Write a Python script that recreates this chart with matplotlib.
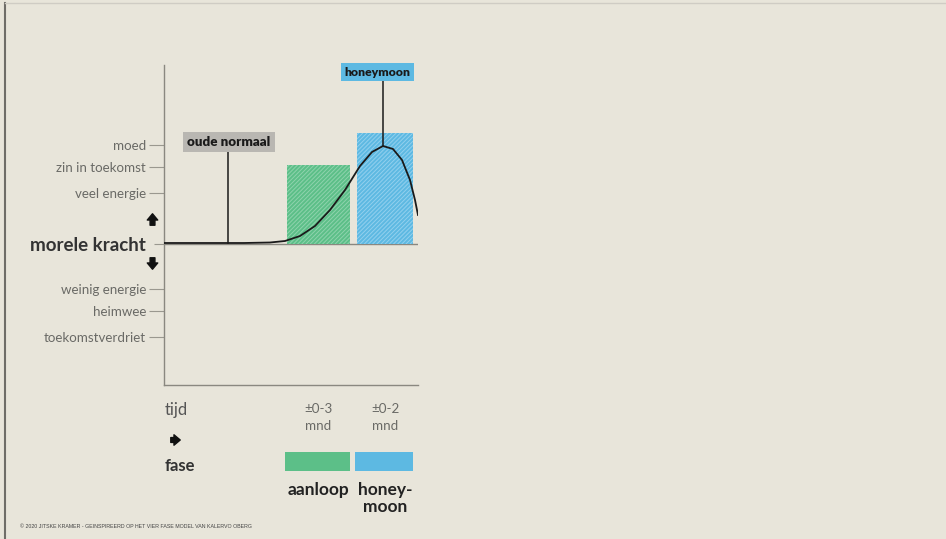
import matplotlib.pyplot as plt
from matplotlib.lines import Line2D

# morale levels (baseline = 0)
level_names = ['toekomstverdriet', 'heimwee', 'weinig energie', 'morele kracht',
               'veel energie', 'zin in toekomst', 'moed']
level_values = [-9.3, -6.7, -4.5, 0.0, 5.1, 7.7, 9.9]

# phases: start, end (time units) and bar height
phase_names = ['aanloop', 'honey-\nmoon']
phase_start = [12.3, 19.3]
phase_end = [18.6, 24.9]
phase_height = [7.9, 11.1]
phase_duration = ['\u00b10-3\nmnd', '\u00b10-2\nmnd']
phase_colors = ['#5cbf88', '#5db9e2']
hatch_colors = ['#8fd3ad', '#93d0ee']

# hand-drawn morale curve
curve_t = [0, 4, 8, 10.6, 12.1, 13.6, 15.1, 16.6, 18.1, 19.6, 20.8, 21.9, 22.9,
           23.8, 24.6, 25.1, 25.4]
curve_y = [0.1, 0.1, 0.1, 0.15, 0.3, 0.8, 1.8, 3.4, 5.4, 7.8, 9.2, 9.8, 9.5,
           8.4, 6.4, 4.4, 2.9]

bg = '#e8e5da'
plt.rcParams['hatch.linewidth'] = 0.7
fig = plt.figure(figsize=(9.46, 5.39), dpi=100, facecolor=bg)
W, H = 946, 539


def fx(px):
    return px / W


def fy(py):
    return 1 - py / H


arrow = 'simple,head_width=0.75,head_length=0.45,tail_width=0.35'

ax = fig.add_axes([fx(164), fy(385), fx(418) - fx(164), fy(65) - fy(385)])
ax.set_facecolor(bg)
ax.set_xlim(0, 25.4)
ax.set_ylim(-14.1, 17.9)

for s in ['top', 'right']:
    ax.spines[s].set_visible(False)
for s in ['left', 'bottom']:
    ax.spines[s].set_color('#8a8880')
    ax.spines[s].set_linewidth(1)

# bars with pencil-like hatching
for x0, x1, h, c, hc in zip(phase_start, phase_end, phase_height, phase_colors, hatch_colors):
    ax.bar(x0, h, width=x1 - x0, align='edge', color=c, edgecolor=hc,
           linewidth=0, hatch='////////', zorder=2)

ax.axhline(0, color='#8a8880', lw=1, zorder=1)
ax.plot(curve_t, curve_y, color='#1a1a1a', lw=1.3, zorder=3)

# y ticks
ax.set_yticks(level_values)
ax.set_yticklabels(level_names)
ax.set_xticks([])
ax.tick_params(axis='y', length=11, width=0.8, color='#9a988f', pad=2,
               labelsize=9.6, labelcolor='#6a6a66')
for lbl in ax.get_yticklabels():
    lbl.set_family('Lato')
    if lbl.get_text() == 'morele kracht':
        lbl.set_fontsize(13.5)
        lbl.set_fontweight('bold')
        lbl.set_color('#333333')
ax.yaxis.get_major_ticks()[3].tick1line.set_markersize(7)

# up / down arrows
ax.annotate('', xy=(-1.15, 3.3), xytext=(-1.15, 1.6),
            arrowprops=dict(arrowstyle=arrow, color='#111111'), annotation_clip=False)
ax.annotate('', xy=(-1.15, -2.8), xytext=(-1.15, -1.1),
            arrowprops=dict(arrowstyle=arrow, color='#111111'), annotation_clip=False)

# label callouts
ax.plot([6.4, 6.4], [0.1, 9.3], color='#1a1a1a', lw=1.1, zorder=3)
ax.text(6.5, 10.2, 'oude normaal', ha='center', va='center', fontsize=9.6,
        fontweight='heavy', family='Lato', color='#1a1a1a', zorder=4,
        bbox=dict(boxstyle='square,pad=0.3', fc='#b9b7b2', ec='none'))
ax.plot([21.9, 21.9], [9.8, 16.4], color='#1a1a1a', lw=1.1, zorder=3)
ax.text(21.35, 17.2, 'honeymoon', ha='center', va='center', fontsize=8.8,
        fontweight='heavy', family='Lato', color='#1a1a1a', zorder=4,
        bbox=dict(boxstyle='square,pad=0.3', fc='#5db9e2', ec='none'), clip_on=False)

# phase strip below the chart
ax2 = fig.add_axes([fx(164), fy(520), fx(418) - fx(164), fy(395) - fy(520)])
ax2.set_xlim(ax.get_xlim())
ax2.set_ylim(12.5, 0)
ax2.axis('off')
for x0, x1, c, d, n in zip(phase_start, phase_end, phase_colors, phase_duration, phase_names):
    ax2.bar(x0 - 0.25, 1.9, bottom=5.7, width=x1 - x0 + 0.2, align='edge', color=c, lw=0)
    xc = (x0 + x1) / 2
    ax2.text(xc, 0.8, d, ha='center', va='top', fontsize=9.6, family='Lato',
             color='#6a6a66', linespacing=1.5)
    ax2.text(xc, 8.7, n, ha='center', va='top', fontsize=12.5, family='Lato',
             fontweight='bold', color='#222222', linespacing=1.05)
ax2.text(0.1, 1.5, 'tijd', ha='left', va='center', fontsize=12, family='Lato', color='#555555')
ax2.annotate('', xy=(1.9, 4.5), xytext=(0.4, 4.5),
             arrowprops=dict(arrowstyle=arrow, color='#111111'))
ax2.text(0.1, 7.1, 'fase', ha='left', va='center', fontsize=12, family='Lato',
         fontweight='bold', color='#333333')

# page decorations
fig.add_artist(Line2D([fx(5), fx(5)], [fy(3), 0], color='#6f6d68', lw=1.5))
fig.add_artist(Line2D([fx(5), 1], [fy(3), fy(3)], color='#cfccc4', lw=1))
fig.text(fx(20), fy(527), '\u00a9 2020 JITSKE KRAMER - GEINSPIREERD OP HET VIER FASE MODEL VAN KALERVO OBERG',
         fontsize=3.8, family='Liberation Sans', color='#444444', va='center')

fig.savefig('out.png', dpi=100, facecolor=bg)
